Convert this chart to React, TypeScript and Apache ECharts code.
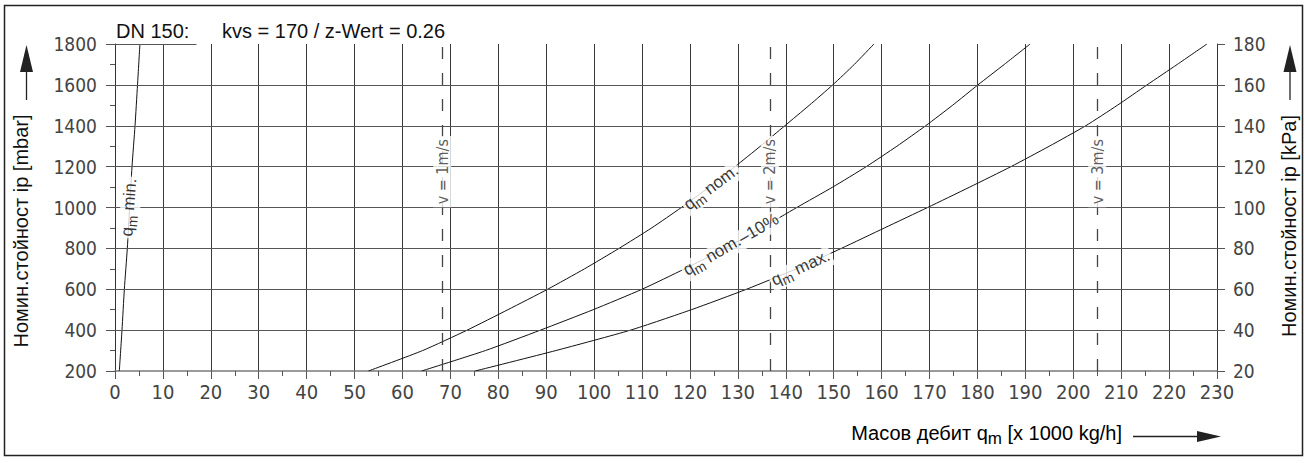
import React, { useEffect, useRef } from "react";
import * as echarts from "echarts";

// ---------- data ----------
const pressureMbar = [200, 300, 400, 500, 600, 700, 800, 900, 1000, 1100, 1200, 1300, 1400, 1500, 1600, 1700, 1800];
const qmNom = [52.9, 64.2, 73.5, 82.0, 90.3, 98.0, 105.2, 112.0, 118.2, 124.0, 129.4, 134.7, 139.8, 144.9, 149.8, 154.3, 158.4];
const qmNomMinus10 = [64.0, 77.3, 88.8, 99.8, 110.0, 118.9, 127.3, 135.0, 142.3, 149.8, 156.8, 163.2, 169.2, 174.8, 180.1, 185.6, 191.0];
const qmMax = [75.2, 92.0, 107.6, 120.3, 131.8, 142.2, 151.6, 160.6, 169.6, 178.4, 187.0, 195.0, 202.6, 209.2, 215.4, 221.7, 227.9];
const qmMinPressure = [200, 400, 600, 800, 1000, 1200, 1400, 1600, 1800];
const qmMin = [0.9, 1.46, 1.95, 2.57, 3.05, 3.55, 4.18, 4.7, 5.2];

const velocityFlows = [68.3, 136.7, 205.0];
const velocityTexts = ["v = 1m/s", "v = 2m/s", "v = 3m/s"];
const velocityLabelPressure = 1175;

const pressureGridLines = [400, 600, 800, 1000, 1200, 1400, 1600];

const curveLabelTexts = [" min.", " nom.", " nom.–10%", " max."];
const curveLabelFlow = [3.2, 124.6, 128.7, 143.2];
const curveLabelPressure = [1000, 1093, 813, 699];
const curveLabelAngle = [86, 37, 30, 25];

const titleLeft = "DN 150:";
const titleRight = "kvs = 170 / z-Wert = 0.26";
const leftAxisName = "Номин.стойност ip [mbar]";
const rightAxisName = "Номин.стойност ip [kPa]";

// ---------- styles ----------
const SANS = '"Liberation Sans", Arial, Helvetica, sans-serif';
const TICKFONT = '"Liberation Sans Narrow", "DejaVu Sans Condensed", "Liberation Sans", sans-serif';

const pairs = (xs: number[], ys: number[]) => xs.map((x, i) => [x, ys[i]]);

const subRich = (size: number, subSize: number, pad: number, color: string) => ({
  q: { fontSize: size, fontFamily: SANS, color, lineHeight: size + 3, verticalAlign: "top" },
  s: { fontSize: subSize, fontFamily: SANS, color, lineHeight: subSize + 2, padding: [pad, 0, 0, 0], verticalAlign: "top" },
});

const plain = (v: number) => String(v);

export default function App() {
  const ref = useRef<HTMLDivElement>(null);

  useEffect(() => {
    if (!ref.current) return;
    const chart = echarts.init(ref.current, undefined, { renderer: "svg" });

    const curveSeries = (name: string, xs: number[], ys: number[]) => ({
      name,
      type: "line",
      data: pairs(xs, ys),
      showSymbol: false,
      smooth: 0.2,
      silent: true,
      z: 3,
      lineStyle: { color: "#111", width: 1 },
      emphasis: { disabled: true },
    });

    const option: any = {
      animation: false,
      backgroundColor: "#fff",
      grid: { left: 115, right: 87, top: 44, bottom: 92 },
      xAxis: {
        type: "value",
        min: 0,
        max: 230,
        interval: 10,
        axisLine: { show: true, onZero: false, lineStyle: { color: "#7a7a7a", width: 1.5 } },
        axisTick: { show: true, length: 8, lineStyle: { color: "#555" } },
        minorTick: { show: true, splitNumber: 2, length: 5, lineStyle: { color: "#555" } },
        axisLabel: { margin: 11, fontSize: 20, fontFamily: TICKFONT, color: "#444", formatter: plain },
        splitLine: { show: true, lineStyle: { color: "#3a3a3a", width: 1 } },
      },
      yAxis: [
        {
          type: "value",
          min: 200,
          max: 1800,
          interval: 200,
          axisLine: { show: true, lineStyle: { color: "#333", width: 1 } },
          axisTick: { show: true, length: 9, lineStyle: { color: "#555" } },
          minorTick: { show: true, splitNumber: 2, length: 5, lineStyle: { color: "#555" } },
          axisLabel: { margin: 18, fontSize: 19, fontFamily: TICKFONT, color: "#444", formatter: plain },
          splitLine: { show: false },
        },
        {
          type: "value",
          position: "right",
          min: 20,
          max: 180,
          interval: 20,
          axisLine: { show: true, lineStyle: { color: "#333", width: 1 } },
          axisTick: { show: true, length: 8, lineStyle: { color: "#555" } },
          axisLabel: { margin: 16, fontSize: 19, fontFamily: TICKFONT, color: "#444", formatter: plain },
          splitLine: { show: false },
        },
      ],
      series: [
        {
          name: "grid",
          type: "line",
          data: [],
          silent: true,
          z: 1,
          markLine: {
            silent: true,
            animation: false,
            symbol: ["none", "none"],
            label: { show: false },
            emphasis: { disabled: true },
            lineStyle: { color: "#555", width: 1, type: "solid" },
            data: [
              ...pressureGridLines.map((v) => ({ yAxis: v })),
              [{ coord: [0, 1800] }, { coord: [17, 1800] }],
            ],
          },
        },
        {
          name: "velocity",
          type: "line",
          data: [],
          silent: true,
          z: 2,
          markLine: {
            silent: true,
            animation: false,
            symbol: ["none", "none"],
            label: { show: false },
            emphasis: { disabled: true },
            lineStyle: { color: "#444", width: 1.3, type: [12, 14] },
            data: velocityFlows.map((v) => ({ xAxis: v })),
          },
        },
        curveSeries("qm min.", qmMin, qmMinPressure),
        curveSeries("qm nom.", qmNom, pressureMbar),
        curveSeries("qm nom.-10%", qmNomMinus10, pressureMbar),
        curveSeries("qm max.", qmMax, pressureMbar),
        {
          name: "curveLabels",
          type: "scatter",
          silent: true,
          z: 6,
          symbolSize: 1,
          itemStyle: { color: "rgba(0,0,0,0)" },
          emphasis: { disabled: true },
          data: curveLabelTexts.map((t, i) => ({
            value: [curveLabelFlow[i], curveLabelPressure[i]],
            label: {
              show: true,
              position: "inside",
              rotate: curveLabelAngle[i],
              formatter: "{q|q}{s|m}{q|" + t + "}",
              backgroundColor: "#fff",
              padding: [0, 2, 0, 2],
              rich: subRich(17, 14, 6, "#000"),
            },
          })),
        },
        {
          name: "velocityLabels",
          type: "scatter",
          silent: true,
          z: 6,
          symbolSize: 1,
          itemStyle: { color: "rgba(0,0,0,0)" },
          emphasis: { disabled: true },
          data: velocityTexts.map((t, i) => ({
            value: [velocityFlows[i], velocityLabelPressure],
            label: {
              show: true,
              position: "inside",
              rotate: 90,
              formatter: t,
              fontSize: 16,
              fontFamily: TICKFONT,
              color: "#333",
              backgroundColor: "#fff",
              padding: [1, 3, 1, 3],
            },
          })),
        },
      ],
      graphic: [
        {
          type: "rect",
          silent: true,
          shape: { x: 4.5, y: 5.5, width: 1298, height: 450 },
          style: { fill: "none", stroke: "#222", lineWidth: 1.5 },
        },
        {
          type: "text",
          x: 116,
          y: 31,
          style: { text: titleLeft, fontSize: 20, fontFamily: SANS, fill: "#111", align: "left", verticalAlign: "middle" },
        },
        {
          type: "text",
          x: 222,
          y: 31,
          style: { text: titleRight, fontSize: 20, fontFamily: SANS, fill: "#111", align: "left", verticalAlign: "middle" },
        },
        {
          type: "text",
          x: 21,
          y: 231,
          rotation: Math.PI / 2,
          style: { text: leftAxisName, fontSize: 20, fontFamily: SANS, fill: "#111", align: "center", verticalAlign: "middle" },
        },
        {
          type: "text",
          x: 1289,
          y: 226,
          rotation: Math.PI / 2,
          style: { text: rightAxisName, fontSize: 20, fontFamily: SANS, fill: "#111", align: "center", verticalAlign: "middle" },
        },
        // left arrow
        { type: "line", shape: { x1: 26.5, y1: 100, x2: 26.5, y2: 70 }, style: { stroke: "#222", lineWidth: 1.3 } },
        { type: "polygon", shape: { points: [[26.5, 45], [20, 72], [33, 72]] }, style: { fill: "#222" } },
        // right arrow
        { type: "line", shape: { x1: 1290, y1: 100, x2: 1290, y2: 70 }, style: { stroke: "#222", lineWidth: 1.3 } },
        { type: "polygon", shape: { points: [[1290, 45], [1283.5, 72], [1296.5, 72]] }, style: { fill: "#222" } },
        // bottom axis name
        {
          type: "text",
          x: 1122,
          y: 434,
          style: {
            text: "{q|Масов дебит q}{s|m}{q| [x 1000 kg/h]}",
            align: "right",
            verticalAlign: "middle",
            rich: subRich(20, 17, 7, "#111"),
          },
        },
        { type: "line", shape: { x1: 1133, y1: 436.5, x2: 1200, y2: 436.5 }, style: { stroke: "#222", lineWidth: 1.3 } },
        { type: "polygon", shape: { points: [[1221, 436.5], [1197, 431], [1197, 442]] }, style: { fill: "#222" } },
      ],
    };

    chart.setOption(option);
    return () => chart.dispose();
  }, []);

  return (
    <div
      ref={ref}
      style={{ position: "fixed", left: 0, top: 0, width: 1304, height: 463, background: "#fff" }}
    />
  );
}
